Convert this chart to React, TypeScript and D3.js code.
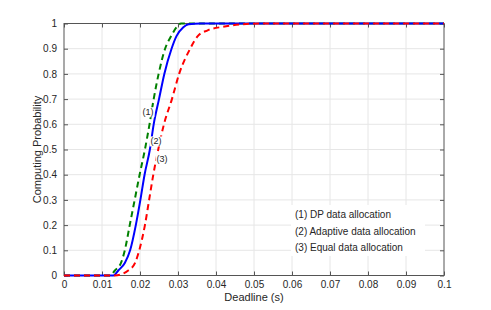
import { useEffect, useRef } from 'react';
import * as d3 from 'd3';

// (1) DP data allocation
const dpX = [0, 0.0121, 0.0134, 0.015, 0.016, 0.0173, 0.0186, 0.0199, 0.0213, 0.0225, 0.0236, 0.0249, 0.0266, 0.0282, 0.0296, 0.0308, 0.035, 0.1];
const dpY = [0, 0, 0.02, 0.05, 0.1, 0.2, 0.3, 0.4, 0.5, 0.6, 0.7, 0.8, 0.9, 0.95, 0.985, 1, 1, 1];

// (2) Adaptive data allocation
const adX = [0, 0.013, 0.0143, 0.016, 0.0174, 0.0189, 0.0201, 0.0212, 0.0226, 0.0236, 0.025, 0.0264, 0.0283, 0.0296, 0.0314, 0.0328, 0.036, 0.1];
const adY = [0, 0, 0.02, 0.05, 0.1, 0.2, 0.3, 0.4, 0.5, 0.6, 0.7, 0.8, 0.9, 0.95, 0.985, 0.997, 1, 1];

// (3) Equal data allocation
const eqX = [0, 0.0134, 0.0169, 0.0187, 0.0198, 0.0213, 0.0224, 0.0235, 0.0248, 0.0263, 0.0284, 0.0303, 0.0332, 0.0352, 0.0378, 0.0418, 0.0463, 0.052, 0.1];
const eqY = [0, 0, 0.02, 0.05, 0.1, 0.2, 0.3, 0.4, 0.5, 0.6, 0.7, 0.8, 0.9, 0.95, 0.973, 0.987, 0.996, 1, 1];

const xTicks = [0, 0.01, 0.02, 0.03, 0.04, 0.05, 0.06, 0.07, 0.08, 0.09, 0.1];
const yTicks = [0, 0.1, 0.2, 0.3, 0.4, 0.5, 0.6, 0.7, 0.8, 0.9, 1];

const legendLabels = ['(1) DP data allocation', '(2) Adaptive data allocation', '(3) Equal data allocation'];
const curveTags = [
  { text: '(1)', x: 0.0221, y: 0.648 },
  { text: '(2)', x: 0.0242, y: 0.532 },
  { text: '(3)', x: 0.0258, y: 0.462 },
];

const FONT = '"Liberation Sans", Arial, Helvetica, sans-serif';

export default function App() {
  const svgRef = useRef<SVGSVGElement>(null);

  useEffect(() => {
    if (!svgRef.current) return;
    const W = 491, H = 310;
    const margin = { top: 23.5, right: 47, bottom: 34.5, left: 64 };
    const width = W - margin.left - margin.right;
    const height = H - margin.top - margin.bottom;

    d3.select(svgRef.current).selectAll('*').remove();
    const root = d3.select(svgRef.current).attr('width', W).attr('height', H);
    root.append('rect').attr('width', W).attr('height', H).attr('fill', '#fff');

    const svg = root.append('g').attr('transform', `translate(${margin.left},${margin.top})`);

    const x = d3.scaleLinear().domain([0, 0.1]).range([0, width]);
    const y = d3.scaleLinear().domain([0, 1]).range([height, 0]);

    // grid
    svg.append('g').selectAll('line').data(xTicks.slice(1, -1)).enter().append('line')
      .attr('x1', d => x(d)).attr('x2', d => x(d)).attr('y1', 0).attr('y2', height)
      .attr('stroke', '#e6e6e6').attr('stroke-width', 1);
    svg.append('g').selectAll('line').data(yTicks.slice(1, -1)).enter().append('line')
      .attr('y1', d => y(d)).attr('y2', d => y(d)).attr('x1', 0).attr('x2', width)
      .attr('stroke', '#e6e6e6').attr('stroke-width', 1);

    // axes with inward ticks on all sides
    const axisColor = '#555';
    const styleAxis = (g: any) => {
      g.select('.domain').remove();
      g.selectAll('.tick line').attr('stroke', axisColor);
      g.selectAll('.tick text').attr('fill', '#262626').style('font-size', '10px').style('font-family', FONT);
    };
    svg.append('g').attr('transform', `translate(0,${height})`)
      .call(d3.axisBottom(x).tickValues(xTicks).tickSize(-4).tickPadding(5).tickFormat(d => String(d)))
      .call(styleAxis);
    svg.append('g')
      .call(d3.axisLeft(y).tickValues(yTicks).tickSize(-4).tickPadding(7).tickFormat(d => String(d)))
      .call(styleAxis);
    svg.append('g')
      .call(d3.axisTop(x).tickValues(xTicks).tickSize(-4).tickFormat(() => ''))
      .call(styleAxis);
    svg.append('g').attr('transform', `translate(${width},0)`)
      .call(d3.axisRight(y).tickValues(yTicks).tickSize(-4).tickFormat(() => ''))
      .call(styleAxis);

    svg.append('rect').attr('width', width).attr('height', height)
      .attr('fill', 'none').attr('stroke', axisColor).attr('stroke-width', 1);

    // curves
    const line = d3.line<[number, number]>()
      .x(d => x(d[0])).y(d => y(d[1]))
      .curve(d3.curveMonotoneX);
    const series = [
      { xs: dpX, ys: dpY, color: '#008000', dash: '6,4' },
      { xs: adX, ys: adY, color: '#0000ff', dash: null },
      { xs: eqX, ys: eqY, color: '#ff0000', dash: '6,4' },
    ];
    series.forEach(s => {
      const pts = s.xs.map((v, i) => [v, s.ys[i]] as [number, number]);
      svg.append('path').datum(pts)
        .attr('d', line)
        .attr('fill', 'none')
        .attr('stroke', s.color)
        .attr('stroke-width', 2)
        .attr('stroke-dasharray', s.dash);
    });

    // curve tags with white boxes
    curveTags.forEach(t => {
      const g = svg.append('g');
      const txt = g.append('text')
        .attr('x', x(t.x)).attr('y', y(t.y))
        .attr('text-anchor', 'middle').attr('dominant-baseline', 'central')
        .style('font-size', '9px').style('font-family', FONT).attr('fill', '#262626')
        .text(t.text);
      const bb = (txt.node() as SVGTextElement).getBBox();
      g.insert('rect', 'text').attr('x', bb.x - 1).attr('y', bb.y).attr('width', bb.width + 2).attr('height', bb.height)
        .attr('fill', '#fff');
    });

    // legend text box
    const lg = svg.append('g').attr('transform', `translate(${295 - margin.left},${218 - margin.top})`);
    lg.append('rect').attr('x', -4).attr('y', -13).attr('width', 134).attr('height', 51).attr('fill', '#fff');
    legendLabels.forEach((l, i) => {
      lg.append('text').attr('x', 0).attr('y', i * 16.5)
        .style('font-size', '10px').style('font-family', FONT).attr('fill', '#262626')
        .text(l);
    });

    // axis labels
    root.append('text')
      .attr('x', margin.left + width / 2).attr('y', 301)
      .attr('text-anchor', 'middle')
      .style('font-size', '11px').style('font-family', FONT).attr('fill', '#262626')
      .text('Deadline (s)');
    root.append('text')
      .attr('transform', `translate(41,${margin.top + height / 2}) rotate(-90)`)
      .attr('text-anchor', 'middle')
      .style('font-size', '11px').style('font-family', FONT).attr('fill', '#262626')
      .text('Computing Probability');
  }, []);

  return (
    <div style={{ position: 'absolute', left: 0, top: 0 }}>
      <svg ref={svgRef}></svg>
    </div>
  );
}
